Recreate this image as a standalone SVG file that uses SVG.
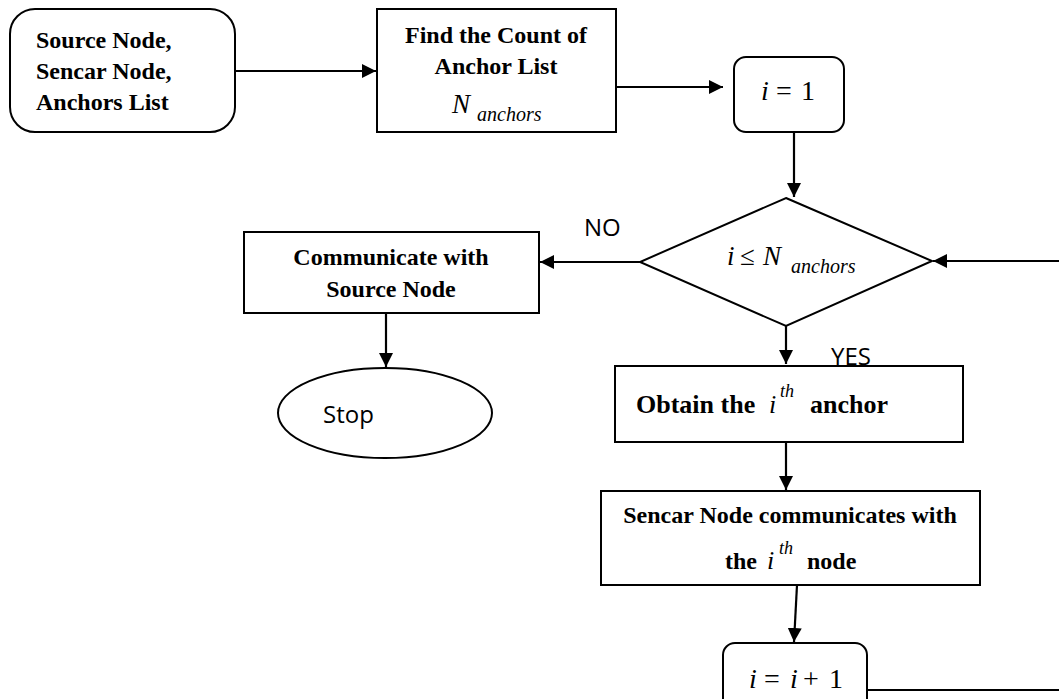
<svg xmlns="http://www.w3.org/2000/svg" width="1059" height="699" viewBox="0 0 1059 699">
<style>
.box{fill:#fff;stroke:#000;stroke-width:2}
.c{fill:none;stroke:#000;stroke-width:2.2}
.b{font-family:"Liberation Serif",serif;font-weight:bold;font-size:24px;fill:#000}
.m{font-family:"Liberation Serif",serif;font-size:28px;fill:#000}
.it{font-style:italic}
.s{font-family:"Open Sans","Liberation Sans",sans-serif;font-size:24px;fill:#000}
</style>
<defs>
<marker id="ah" viewBox="0 0 14 14" refX="14" refY="7" markerWidth="14" markerHeight="14" orient="auto" markerUnits="userSpaceOnUse">
<path d="M0,0 L14,7 L0,14 z" fill="#000"/>
</marker>
</defs>
<rect width="1059" height="699" fill="#fff"/>
<g id="connectors">
<path class="c" d="M235,71 H376" marker-end="url(#ah)"/>
<path class="c" d="M616,87 H723" marker-end="url(#ah)"/>
<path class="c" d="M794,132 V197" marker-end="url(#ah)"/>
<path class="c" d="M1059,261 H933" marker-end="url(#ah)"/>
<path class="c" d="M640,262 H540" marker-end="url(#ah)"/>
<path class="c" d="M386,313 V367" marker-end="url(#ah)"/>
<path class="c" d="M786,326 V364" marker-end="url(#ah)"/>
<path class="c" d="M786,442 V490" marker-end="url(#ah)"/>
<path class="c" d="M797,585 L794,642" marker-end="url(#ah)"/>
<path class="c" d="M867,690 H1059"/>
<text class="s" x="584" y="236">NO</text>
<text class="s" x="831" y="365">YES</text>
</g>
<g id="start">
<rect class="box" x="10" y="9" width="225" height="123" rx="25"/>
<text class="b" x="36" y="48">Source Node,</text>
<text class="b" x="36" y="79">Sencar Node,</text>
<text class="b" x="36" y="110">Anchors List</text>
</g>
<g id="count">
<rect class="box" x="377" y="9" width="239" height="123"/>
<text class="b" x="496" y="43" text-anchor="middle">Find the Count of</text>
<text class="b" x="496" y="74" text-anchor="middle">Anchor List</text>
<text class="m it" x="452" y="113" style="font-size:27px">N</text>
<text class="m it" x="477" y="121" style="font-size:20px">anchors</text>
</g>
<g id="init">
<rect class="box" x="734" y="57" width="110" height="75" rx="12"/>
<text class="m" y="100"><tspan class="it" x="761">i</tspan><tspan x="776">=</tspan><tspan x="801">1</tspan></text>
</g>
<g id="decision">
<polygon class="box" points="786,198 932,261 786,326 640,262"/>
<text class="m" y="265" style="font-size:27px"><tspan class="it" x="727">i</tspan><tspan x="740">≤</tspan><tspan class="it" x="763">N</tspan></text>
<text class="m it" x="791" y="273" style="font-size:20px">anchors</text>
</g>
<g id="communicate">
<rect class="box" x="244" y="232" width="295" height="81"/>
<text class="b" x="391" y="265" text-anchor="middle">Communicate with</text>
<text class="b" x="391" y="297" text-anchor="middle">Source Node</text>
</g>
<g id="stop">
<ellipse class="box" cx="385" cy="413" rx="107" ry="45"/>
<text class="s" x="323" y="423">Stop</text>
</g>
<g id="obtain">
<rect class="box" x="615" y="366" width="348" height="76"/>
<text class="b" x="636" y="413" style="font-size:26px">Obtain the</text>
<text class="m it" x="769" y="413" style="font-size:26px">i</text>
<text class="m it" x="780" y="397" style="font-size:18px">th</text>
<text class="b" x="810" y="413" style="font-size:26px">anchor</text>
</g>
<g id="sencar">
<rect class="box" x="601" y="491" width="379" height="94"/>
<text class="b" x="790" y="523" text-anchor="middle">Sencar Node communicates with</text>
<text class="b" x="725" y="569">the</text>
<text class="m it" x="767" y="569" style="font-size:26px">i</text>
<text class="m it" x="779" y="554" style="font-size:18px">th</text>
<text class="b" x="807" y="569">node</text>
</g>
<g id="increment">
<rect class="box" x="723" y="643" width="144" height="80" rx="12"/>
<text class="m" y="688"><tspan class="it" x="749">i</tspan><tspan x="764">=</tspan><tspan class="it" x="790">i</tspan><tspan x="803">+</tspan><tspan x="829">1</tspan></text>
</g>
</svg>
